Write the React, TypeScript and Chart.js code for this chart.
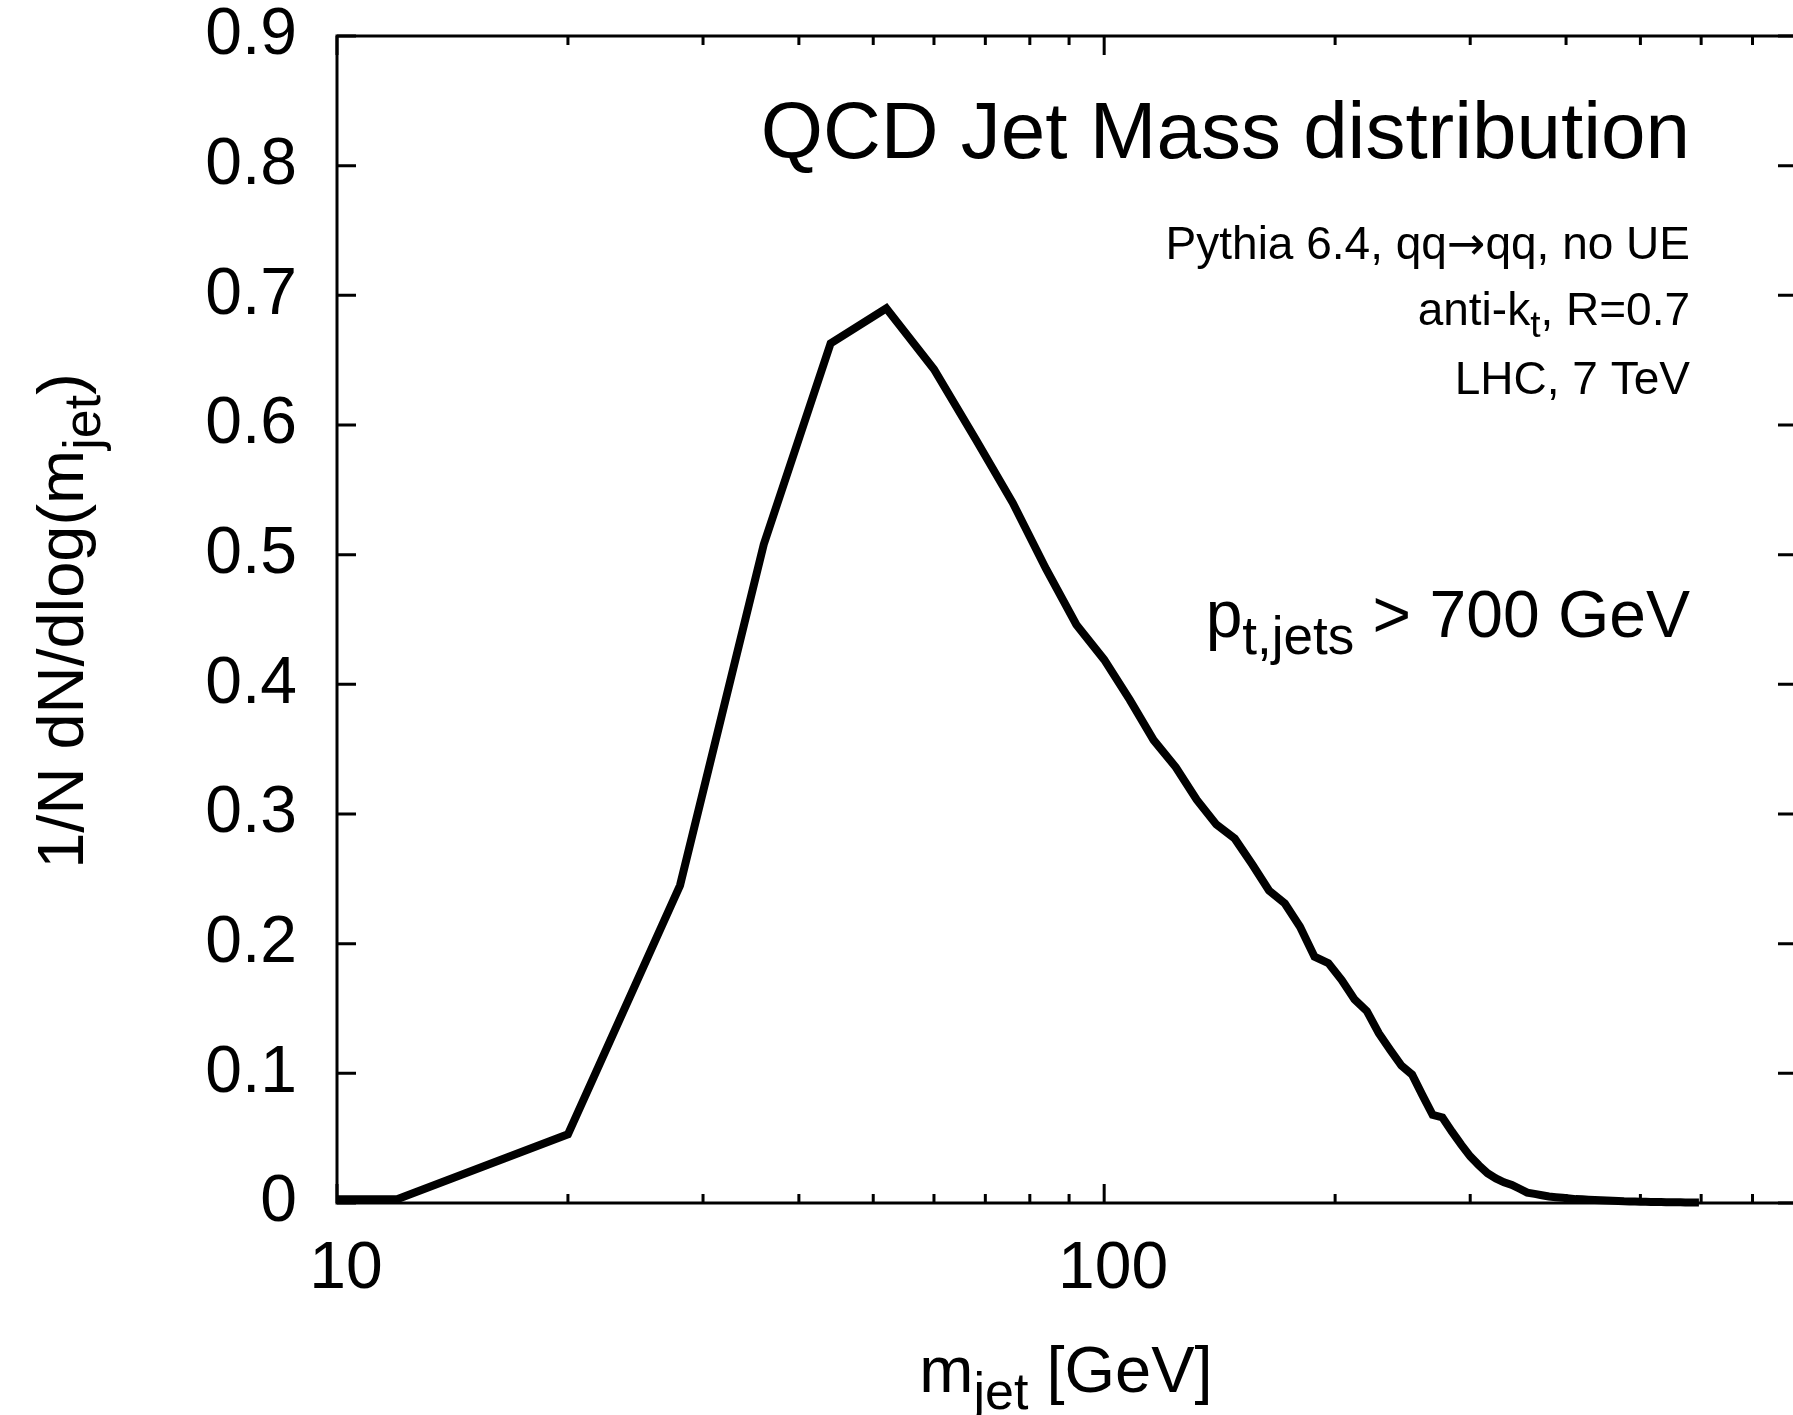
import React, { useEffect, useRef } from 'react';
import { Chart, registerables } from 'chart.js';

Chart.register(...registerables);

// ---- data ----
const massBins = [
  4, 12, 20, 28, 36, 44, 52, 60, 68, 76,
  84, 92, 100, 108, 116, 124, 132, 140, 148, 156,
  164, 172, 180, 188, 196, 204, 212, 220, 228, 236,
  244, 252, 260, 268, 276, 284, 292, 300, 308, 316,
  324, 332, 340, 348, 356, 364, 372, 380, 388, 396,
  404, 412, 420, 428, 436, 444, 452, 460, 468, 476,
  484, 492, 500, 508, 516, 524, 532, 540, 548, 556,
  564, 572, 580, 588, 596,
];

const jetMassDist = [
  0.002, 0.003, 0.053, 0.245, 0.508, 0.663, 0.690, 0.643, 0.589, 0.540,
  0.489, 0.446, 0.419, 0.388, 0.357, 0.336, 0.311, 0.292, 0.281, 0.261,
  0.241, 0.231, 0.213, 0.190, 0.185, 0.172, 0.157, 0.148, 0.131, 0.118,
  0.106, 0.099, 0.083, 0.068, 0.066, 0.055, 0.045, 0.036, 0.029, 0.023,
  0.019, 0.016, 0.014, 0.011, 0.008, 0.007, 0.006, 0.005, 0.0045, 0.004,
  0.0035, 0.003, 0.0028, 0.0025, 0.0023, 0.0021, 0.0019, 0.0017, 0.0015, 0.0013,
  0.0012, 0.0011, 0.001, 0.0009, 0.0008, 0.0008, 0.0007, 0.0006, 0.0006, 0.0005,
  0.0005, 0.0004, 0.0004, 0.0003, 0.0003,
];

const yTickValues = [0, 0.1, 0.2, 0.3, 0.4, 0.5, 0.6, 0.7, 0.8, 0.9];
const yTickLabels = ['0', '0.1', '0.2', '0.3', '0.4', '0.5', '0.6', '0.7', '0.8', '0.9'];
const xMajorTicks = [10, 100];
const xTickLabels = ['10', '100'];
const xMinorTicks = [20, 30, 40, 50, 60, 70, 80, 90, 200, 300, 400, 500, 600, 700, 800];

const FONT = '"Liberation Sans", Arial, Helvetica, sans-serif';
const SYMBOL_FONT = '"DejaVu Sans", sans-serif';

type Part = { t: string; sub?: boolean; family?: string };

function setFont(ctx: CanvasRenderingContext2D, size: number, family?: string) {
  ctx.font = `${size}px ${family || FONT}`;
}

function richWidth(ctx: CanvasRenderingContext2D, parts: Part[], size: number, subSize: number) {
  let w = 0;
  for (const p of parts) {
    setFont(ctx, p.sub ? subSize : size, p.family);
    w += ctx.measureText(p.t).width;
  }
  return w;
}

function drawRich(
  ctx: CanvasRenderingContext2D,
  parts: Part[],
  x: number,
  y: number,
  size: number,
  subSize: number,
  subDy: number,
  align: 'left' | 'right' | 'center'
) {
  const w = richWidth(ctx, parts, size, subSize);
  let cx = align === 'left' ? x : align === 'right' ? x - w : x - w / 2;
  ctx.textAlign = 'left';
  ctx.textBaseline = 'alphabetic';
  for (const p of parts) {
    setFont(ctx, p.sub ? subSize : size, p.family);
    ctx.fillText(p.t, cx, p.sub ? y + subDy : y);
    cx += ctx.measureText(p.t).width;
  }
}

const framePlugin = {
  id: 'frame',
  beforeDatasetsDraw(chart: any) {
    const { ctx, chartArea: a, scales } = chart;
    const xs = scales.x;
    const ys = scales.y;
    ctx.save();
    ctx.strokeStyle = '#000';
    ctx.lineWidth = 3;
    ctx.lineCap = 'butt';
    ctx.beginPath();
    for (const v of xMajorTicks) {
      const px = xs.getPixelForValue(v);
      ctx.moveTo(px, a.bottom);
      ctx.lineTo(px, a.bottom - 19);
      ctx.moveTo(px, a.top);
      ctx.lineTo(px, a.top + 19);
    }
    for (const v of xMinorTicks) {
      const px = xs.getPixelForValue(v);
      ctx.moveTo(px, a.bottom);
      ctx.lineTo(px, a.bottom - 9);
      ctx.moveTo(px, a.top);
      ctx.lineTo(px, a.top + 9);
    }
    for (const v of yTickValues) {
      const py = ys.getPixelForValue(v);
      ctx.moveTo(a.left, py);
      ctx.lineTo(a.left + 19, py);
      ctx.moveTo(a.right, py);
      ctx.lineTo(a.right - 19, py);
    }
    ctx.stroke();
    ctx.strokeRect(a.left, a.top, a.right - a.left, a.bottom - a.top);
    ctx.restore();
  },
  afterDraw(chart: any) {
    const { ctx } = chart;
    ctx.save();
    ctx.fillStyle = '#000';
    // title and annotations
    drawRich(ctx, [{ t: 'QCD Jet Mass distribution' }], 1690, 158, 80, 64, 20, 'right');
    drawRich(
      ctx,
      [{ t: 'Pythia 6.4, qq' }, { t: '\u2192', family: SYMBOL_FONT }, { t: 'qq, no UE' }],
      1690, 259, 46, 37, 12, 'right'
    );
    drawRich(ctx, [{ t: 'anti-k' }, { t: 't', sub: true }, { t: ', R=0.7' }], 1690, 325, 46, 37, 12, 'right');
    drawRich(ctx, [{ t: 'LHC, 7 TeV' }], 1690, 394, 46, 37, 12, 'right');
    drawRich(ctx, [{ t: 'p' }, { t: 't,jets', sub: true }, { t: ' > 700 GeV' }], 1690, 637, 66, 53, 17, 'right');
    // x axis title
    drawRich(ctx, [{ t: 'm' }, { t: 'jet', sub: true }, { t: ' [GeV]' }], 1066, 1392, 65, 52, 17, 'center');
    // y axis title
    ctx.translate(83, 621);
    ctx.rotate(-Math.PI / 2);
    drawRich(ctx, [{ t: '1/N dN/dlog(m' }, { t: 'jet', sub: true }, { t: ')' }], 0, 0, 65, 52, 17, 'center');
    ctx.restore();
  },
};

export default function App() {
  const canvasRef = useRef<HTMLCanvasElement | null>(null);

  useEffect(() => {
    const canvas = canvasRef.current;
    if (!canvas) return;
    const points = massBins.map((m, i) => ({ x: m, y: jetMassDist[i] }));
    const chart = new Chart(canvas, {
      type: 'line',
      data: {
        datasets: [
          {
            data: points,
            borderColor: '#000',
            borderWidth: 8,
            pointRadius: 0,
            fill: false,
            tension: 0,
            borderJoinStyle: 'miter',
            borderCapStyle: 'butt',
            clip: { left: 0, top: 0, right: 0, bottom: 10 },
          } as any,
        ],
      },
      options: {
        responsive: false,
        animation: false,
        devicePixelRatio: 1,
        layout: { padding: { left: 0, right: 15, top: 36, bottom: 0 } },
        plugins: {
          legend: { display: false },
          tooltip: { enabled: false },
          title: { display: false },
        },
        elements: { point: { radius: 0 }, line: { tension: 0 } },
        scales: {
          x: {
            type: 'logarithmic',
            min: 10,
            max: 800,
            grid: { display: false, drawTicks: false },
            border: { display: false },
            afterBuildTicks: (s: any) => {
              s.ticks = [...xMajorTicks, ...xMinorTicks]
                .sort((a, b) => a - b)
                .map((v) => ({ value: v }));
            },
            ticks: {
              autoSkip: false,
              maxRotation: 0,
              minRotation: 0,
              padding: 27,
              labelOffset: 9,
              color: '#000',
              font: { family: FONT, size: 66 },
              callback: (v: any) => {
                const i = xMajorTicks.indexOf(Number(v));
                return i >= 0 ? xTickLabels[i] : '';
              },
            },
            afterFit: (s: any) => {
              s.height = 212;
              s.paddingLeft = 0;
              s.paddingRight = 0;
            },
          } as any,
          y: {
            type: 'linear',
            min: 0,
            max: 0.9,
            grid: { display: false, drawTicks: false },
            border: { display: false },
            afterBuildTicks: (s: any) => {
              s.ticks = yTickValues.map((v) => ({ value: v }));
            },
            ticks: {
              padding: 40,
              color: '#000',
              font: { family: FONT, size: 66 },
              callback: (_v: any, i: number) => yTickLabels[i],
            },
            afterFit: (s: any) => {
              s.width = 337;
              s.paddingTop = 0;
              s.paddingBottom = 0;
            },
          } as any,
        },
      },
      plugins: [framePlugin],
    });
    return () => chart.destroy();
  }, []);

  return (
    <div
      style={{
        position: 'absolute',
        left: 0,
        top: 0,
        width: 1793,
        height: 1415,
        overflow: 'hidden',
        background: '#fff',
      }}
    >
      <canvas
        ref={canvasRef}
        width={1812}
        height={1415}
        style={{ display: 'block', width: 1812, height: 1415 }}
      />
    </div>
  );
}
